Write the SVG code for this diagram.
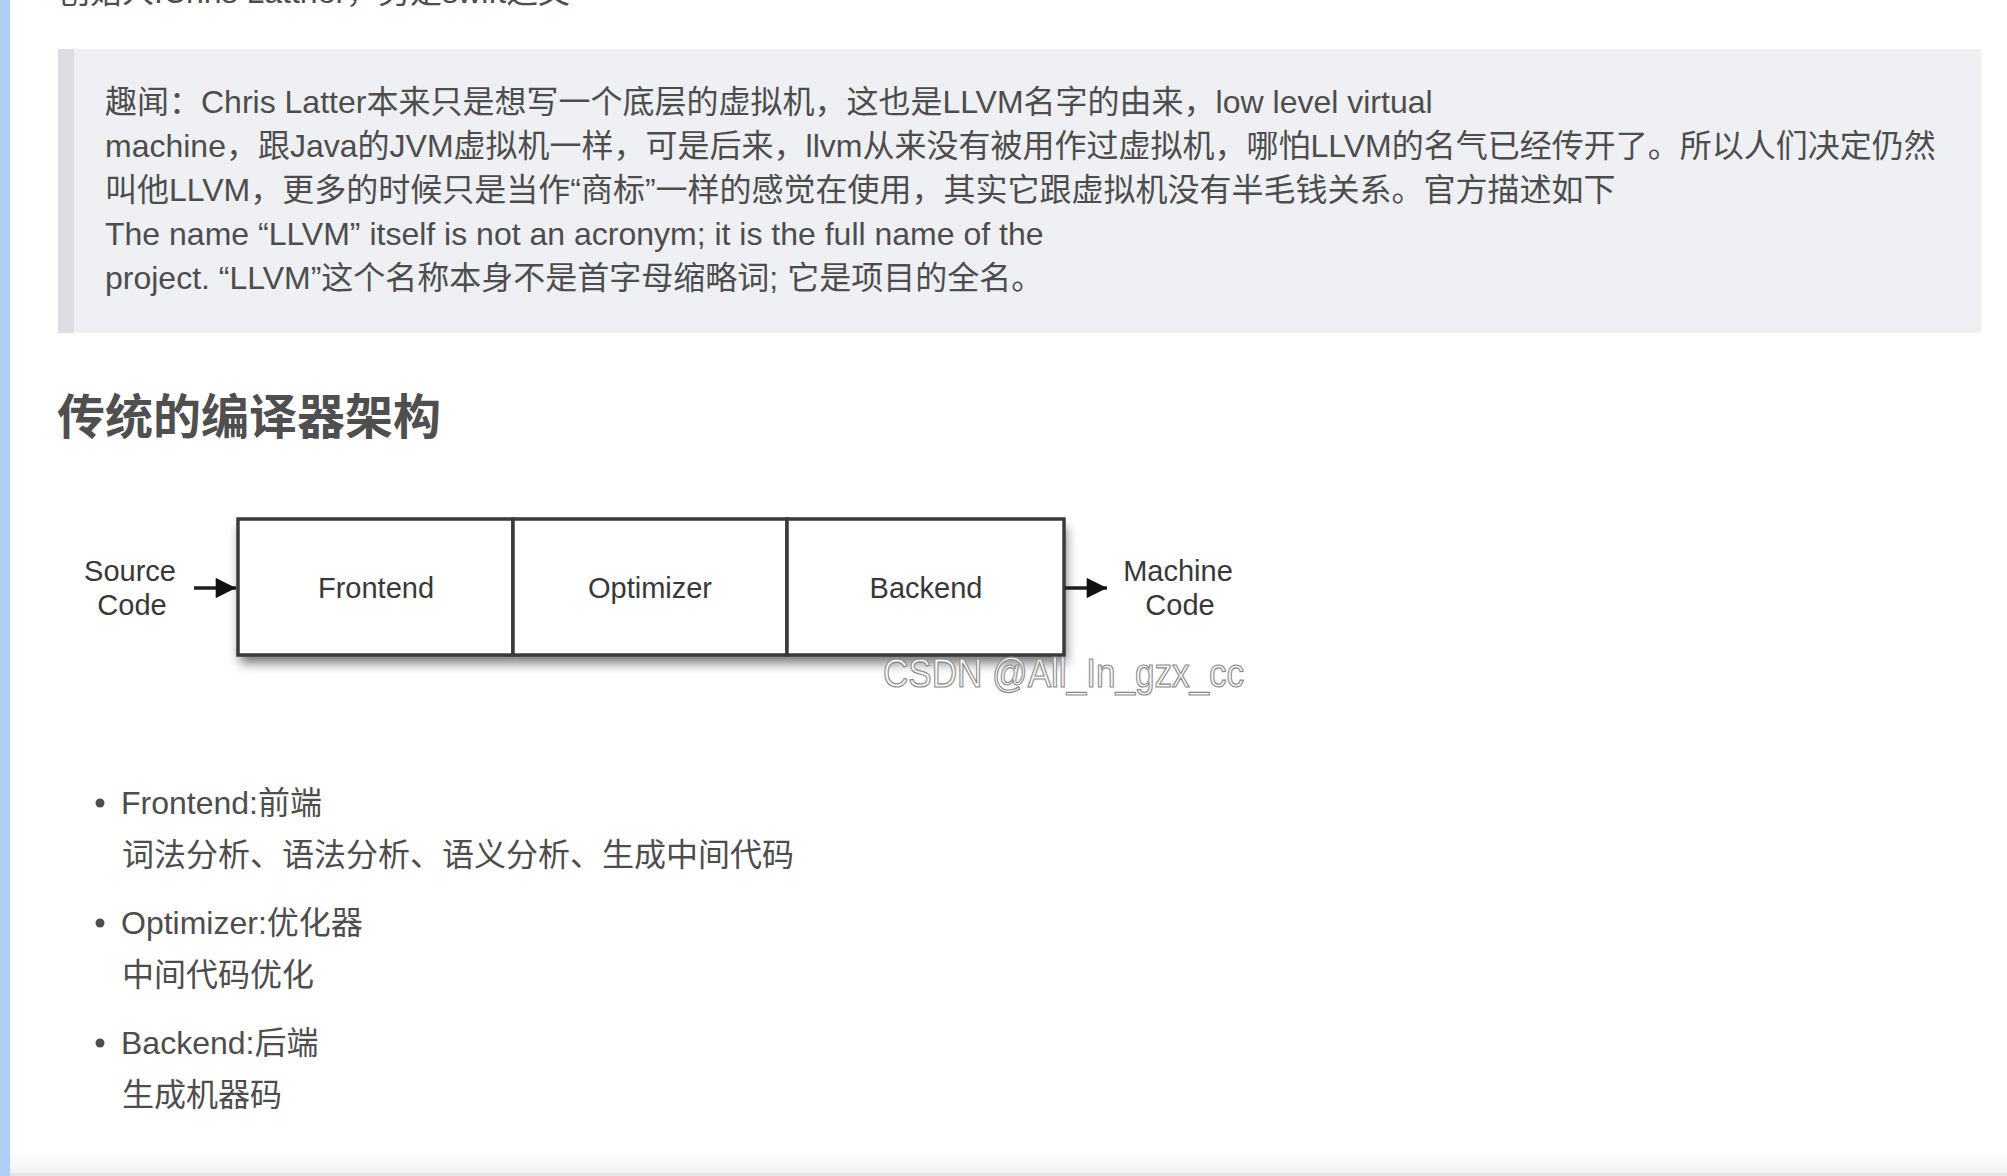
<svg xmlns="http://www.w3.org/2000/svg" width="2007" height="1176" viewBox="0 0 2007 1176">
<style>
  .body { font-family: "Liberation Sans", "Noto Sans CJK SC", sans-serif; font-size: 32px; fill: #4d4d4d; }
  .h2 { font-family: "Liberation Sans", "Noto Sans CJK SC", sans-serif; font-size: 48px; font-weight: bold; fill: #4f4f4f; }
  .dlabel { font-family: "Liberation Sans", "Noto Sans", sans-serif; font-size: 29px; fill: #383838; text-anchor: middle; }
  .stage { fill: #ffffff; stroke: #3a3a3a; stroke-width: 3.5; }
  .conn { stroke: #1e1e1e; stroke-width: 3.5; fill: none; }
  .wm { font-family: "Liberation Sans", sans-serif; font-size: 40px; fill: #f7f7f7; stroke: #8a8a8a; stroke-width: 1.2; }
</style>
<defs>
  <filter id="shadow" x="-10%" y="-20%" width="125%" height="160%">
    <feDropShadow dx="2" dy="8" stdDeviation="6" flood-color="#000" flood-opacity="0.55"/>
  </filter>
  <marker id="arrow" viewBox="0 0 10 10" refX="10" refY="5" markerWidth="6.5" markerHeight="5.8" markerUnits="strokeWidth" orient="auto">
    <path d="M0,0 L10,5 L0,10 z" fill="#111"/>
  </marker>
  <linearGradient id="bottomfade" x1="0" y1="0" x2="0" y2="1">
    <stop offset="0" stop-color="#ffffff"/>
    <stop offset="1" stop-color="#f2f2f2"/>
  </linearGradient>
</defs>

<rect x="0" y="0" width="2007" height="1176" fill="#ffffff"/>
<rect x="0" y="0" width="10" height="1176" fill="#aed0f6"/>
<rect x="10" y="1150" width="1997" height="23" fill="url(#bottomfade)"/>
<rect x="10" y="1173" width="1997" height="3" fill="#e6e6e6"/>

<!-- cropped top line -->
<text class="body" x="58" y="3">创始人:Chris Lattner，另是swift之父</text>

<!-- blockquote -->
<rect x="58" y="49" width="1923" height="284" fill="#eef0f4"/>
<rect x="58" y="49" width="16" height="284" fill="#dcdde2"/>
<text class="body" x="105" y="113">趣闻：Chris Latter本来只是想写一个底层的虚拟机，这也是LLVM名字的由来，low level virtual</text>
<text class="body" x="105" y="157">machine，跟Java的JVM虚拟机一样，可是后来，llvm从来没有被用作过虚拟机，哪怕LLVM的名气已经传开了。所以人们决定仍然</text>
<text class="body" x="105" y="201">叫他LLVM，更多的时候只是当作“商标”一样的感觉在使用，其实它跟虚拟机没有半毛钱关系。官方描述如下</text>
<text class="body" x="105" y="245">The name “LLVM” itself is not an acronym; it is the full name of the</text>
<text class="body" x="105" y="289">project. “LLVM”这个名称本身不是首字母缩略词; 它是项目的全名。</text>

<!-- heading -->
<text class="h2" x="57" y="434">传统的编译器架构</text>

<!-- diagram -->
<g id="pipeline" filter="url(#shadow)">
  <rect x="238" y="519" width="826" height="136" fill="#ffffff"/>
</g>
<g id="frontend">
  <rect class="stage" x="238" y="519" width="275" height="136"/>
  <text class="dlabel" x="376" y="598">Frontend</text>
</g>
<g id="optimizer">
  <rect class="stage" x="513" y="519" width="274" height="136"/>
  <text class="dlabel" x="650" y="598">Optimizer</text>
</g>
<g id="backend">
  <rect class="stage" x="787" y="519" width="277" height="136"/>
  <text class="dlabel" x="926" y="598">Backend</text>
</g>
<g id="source-code">
  <text class="dlabel" x="130" y="581">Source</text>
  <text class="dlabel" x="132" y="615">Code</text>
</g>
<g id="machine-code">
  <text class="dlabel" x="1178" y="581">Machine</text>
  <text class="dlabel" x="1180" y="615">Code</text>
</g>
<g id="connectors">
  <line class="conn" x1="194" y1="588" x2="236" y2="588" marker-end="url(#arrow)"/>
  <line class="conn" x1="1065" y1="588" x2="1107" y2="588" marker-end="url(#arrow)"/>
</g>

<!-- watermark -->
<text class="wm" x="883" y="687" textLength="361" lengthAdjust="spacingAndGlyphs">CSDN @All_In_gzx_cc</text>

<!-- list -->
<circle cx="100" cy="803" r="4.5" fill="#4d4d4d"/>
<text class="body" x="121" y="814">Frontend:前端</text>
<text class="body" x="122" y="866">词法分析、语法分析、语义分析、生成中间代码</text>
<circle cx="100" cy="923" r="4.5" fill="#4d4d4d"/>
<text class="body" x="121" y="934">Optimizer:优化器</text>
<text class="body" x="122" y="986">中间代码优化</text>
<circle cx="100" cy="1043" r="4.5" fill="#4d4d4d"/>
<text class="body" x="121" y="1054">Backend:后端</text>
<text class="body" x="122" y="1106">生成机器码</text>
</svg>
